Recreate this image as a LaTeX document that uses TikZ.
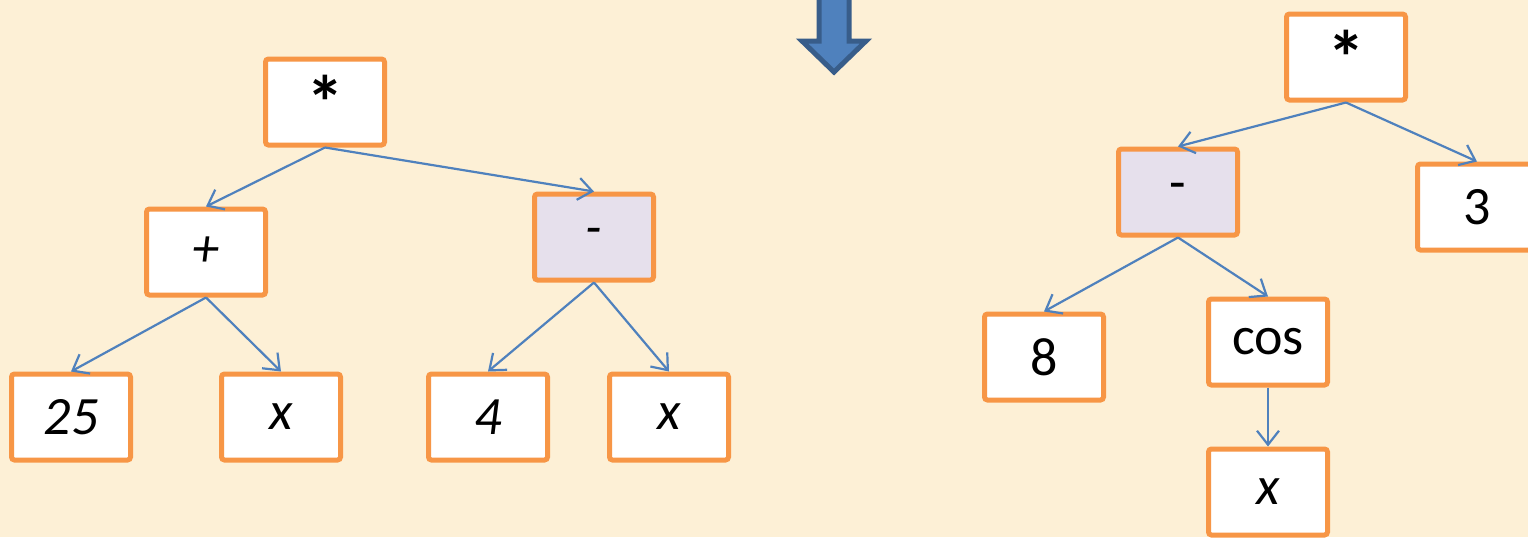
\documentclass[tikz,border=0pt]{standalone}
\usepackage{fontspec}
\setmainfont{Carlito}
\usetikzlibrary{arrows.meta}
\definecolor{paper}{HTML}{FDF0D6}
\definecolor{boxline}{HTML}{F79646}
\definecolor{linkblue}{HTML}{4F81BD}
\definecolor{opfill}{HTML}{E6E0EC}
\definecolor{arrowedge}{HTML}{385D8A}
\newcommand{\mulsign}{{\fontsize{38}{40}\selectfont\bfseries *}}
\tikzset{
  term/.style={draw=boxline, line width=2.5pt, fill=white, rounded corners=1.5pt,
    minimum width=59.5pt, minimum height=43pt, inner sep=0pt,
    font=\fontsize{27}{30}\selectfont},
  op/.style={term, fill=opfill},
  link/.style={draw=linkblue, line width=1.1pt, -{Straight Barb[length=7pt,width=11pt]}},
}
\begin{document}
\begin{tikzpicture}[x=0.5pt,y=-0.5pt]
\useasboundingbox (0,0) rectangle (1528,537);
\clip (0,0) rectangle (1528,537);
\fill[paper] (0,0) rectangle (1528,537);

% downward block arrow
\filldraw[fill=linkblue, draw=arrowedge, line width=2.5pt, line join=miter]
  (819,-10) -- (849,-10) -- (849,41) -- (866,41) -- (834,72) -- (802,41) -- (819,41) -- cycle;

% left tree: (25 + x) * (4 - x)
\node[term] (lmul) at (325,102) {\mulsign};
\node[term] (lplus) at (206,252) {\itshape +};
\node[op]   (lminus) at (594,237) {\itshape -};
\node[term] (l25) at (71,417) {\itshape 25};
\node[term] (lx1) at (281,417) {\itshape x};
\node[term] (l4) at (488,417) {\itshape 4};
\node[term] (lx2) at (669,417) {\itshape x};

\draw[link] (lmul.south) -- (lplus.north);
\draw[link] (lmul.south) -- (lminus.north);
\draw[link] (lplus.south) -- (l25.north);
\draw[link] (lplus.south) -- (lx1.north);
\draw[link] (lminus.south) -- (l4.north);
\draw[link] (lminus.south) -- (lx2.north);

% right tree: (8 - cos x) * 3
\node[term] (rmul) at (1346,57) {\mulsign};
\node[op]   (rminus) at (1178,192) {-};
\node[term] (r3) at (1477,207) {3};
\node[term] (r8) at (1044,357) {8};
\node[term] (rcos) at (1268,342) {cos};
\node[term] (rx) at (1268,492) {\itshape x};

\draw[link] (rmul.south) -- (rminus.north);
\draw[link] (rmul.south) -- (r3.north);
\draw[link] (rminus.south) -- (r8.north);
\draw[link] (rminus.south) -- (rcos.north);
\draw[link] (rcos.south) -- (rx.north);
\end{tikzpicture}
\end{document}
